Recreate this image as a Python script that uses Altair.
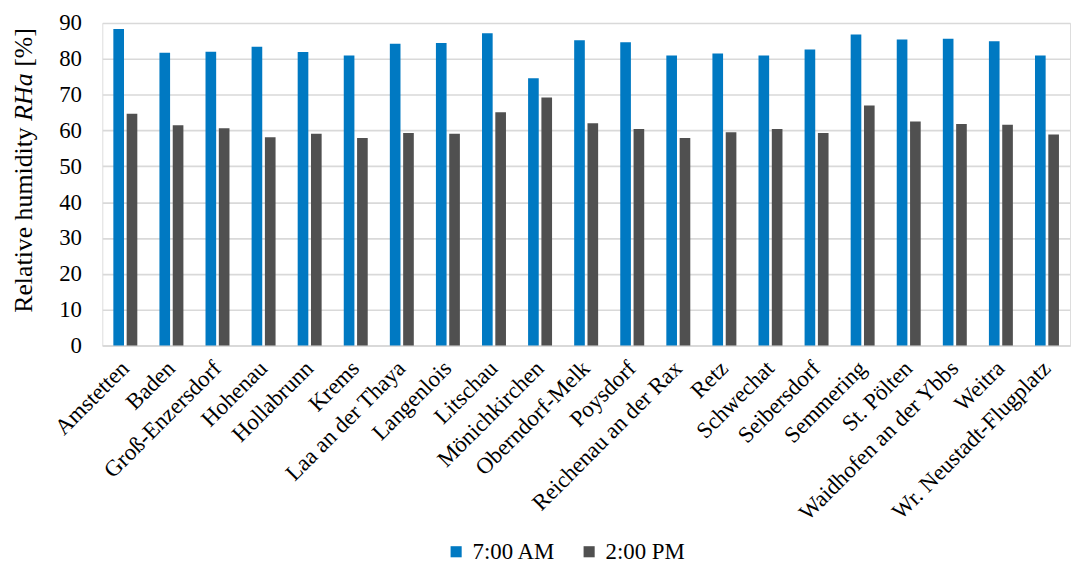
import altair as alt
import pandas as pd

stations = ["Amstetten", "Baden", "Groß-Enzersdorf", "Hohenau", "Hollabrunn", "Krems",
            "Laa an der Thaya", "Langenlois", "Litschau", "Mönichkirchen", "Oberndorf-Melk",
            "Poysdorf", "Reichenau an der Rax", "Retz", "Schwechat", "Seibersdorf",
            "Semmering", "St. Pölten", "Waidhofen an der Ybbs", "Weitra",
            "Wr. Neustadt-Flugplatz"]
rh_am = [88.3, 81.7, 82.0, 83.4, 81.9, 80.9, 84.2, 84.4, 87.1, 74.6, 85.2,
         84.6, 80.9, 81.5, 80.9, 82.6, 86.8, 85.4, 85.6, 84.9, 80.9]
rh_pm = [64.7, 61.5, 60.6, 58.1, 59.1, 57.9, 59.3, 59.1, 65.1, 69.2, 62.0,
         60.4, 57.9, 59.5, 60.4, 59.3, 67.0, 62.5, 61.8, 61.6, 58.9]
series = ["7:00 AM", "2:00 PM"]
colors = ["#0079C2", "#505050"]
title_parts = ["Relative humidity", "RHa", "[%]"]
y_ticks = [0, 10, 20, 30, 40, 50, 60, 70, 80, 90]

rows = []
for s, a, p in zip(stations, rh_am, rh_pm):
    rows.append({"station": s, "series": series[0], "value": a})
    rows.append({"station": s, "series": series[1], "value": p})
df = pd.DataFrame(rows)

FONT = "Liberation Serif"

bars = alt.Chart(df).mark_bar().encode(
    x=alt.X("station:N", sort=stations, title=None,
            scale=alt.Scale(paddingInner=0.48, paddingOuter=0.24),
            axis=alt.Axis(labelAngle=-45, labelAlign="right", labelBaseline="middle",
                          labelFontSize=23, labelFont=FONT, labelColor="#000000",
                          labelPadding=19, ticks=False, domainColor="#d9d9d9",
                          domainWidth=2, grid=False, labelLimit=400)),
    xOffset=alt.XOffset("series:N", sort=series,
                        scale=alt.Scale(paddingInner=0.2, paddingOuter=0)),
    y=alt.Y("value:Q", title=None,
            scale=alt.Scale(domain=[0, 90], nice=False),
            axis=alt.Axis(values=y_ticks, labelFontSize=23, labelFont=FONT,
                          labelColor="#000000", labelPadding=21, ticks=False,
                          domain=False, gridColor="#d9d9d9", gridWidth=1.6)),
    color=alt.Color("series:N", sort=series,
                    scale=alt.Scale(domain=series, range=colors),
                    legend=alt.Legend(title=None, orient="none", direction="horizontal",
                                      legendX=345, legendY=521, symbolType="square",
                                      symbolSize=125, symbolStrokeWidth=0,
                                      labelFontSize=23, labelFont=FONT,
                                      labelColor="#000000", labelOffset=5,
                                      columnPadding=22, padding=0)),
)

title_df = pd.DataFrame({"t": title_parts})

def title_part(i, y, style):
    return alt.Chart(title_df.iloc[[i]]).mark_text(
        angle=270, align="left", baseline="alphabetic", fontSize=26,
        font=FONT, fontStyle=style, color="#000000"
    ).encode(text="t:N", x=alt.value(-71), y=alt.value(y))

# widths at 26px (Times metrics): "Relative humidity" ~187, space ~6.5, "RHa" ~47.7
y0 = 292
y1 = y0 - 187.1 - 6.5
y2 = y1 - 47.7 - 6.5
p0 = title_part(0, y0, "normal")
p1 = title_part(1, y1, "italic")
p2 = title_part(2, y2, "normal")

chart = alt.layer(bars, p0, p1, p2).properties(
    width=975, height=325,
    autosize=alt.AutoSizeParams(type="none"),
    padding={"left": 95, "top": 13, "right": 2, "bottom": 218},
).configure_view(stroke=None).configure(background="white", font=FONT)

chart.save("out.html", embed_options={"renderer": "svg", "actions": False})
